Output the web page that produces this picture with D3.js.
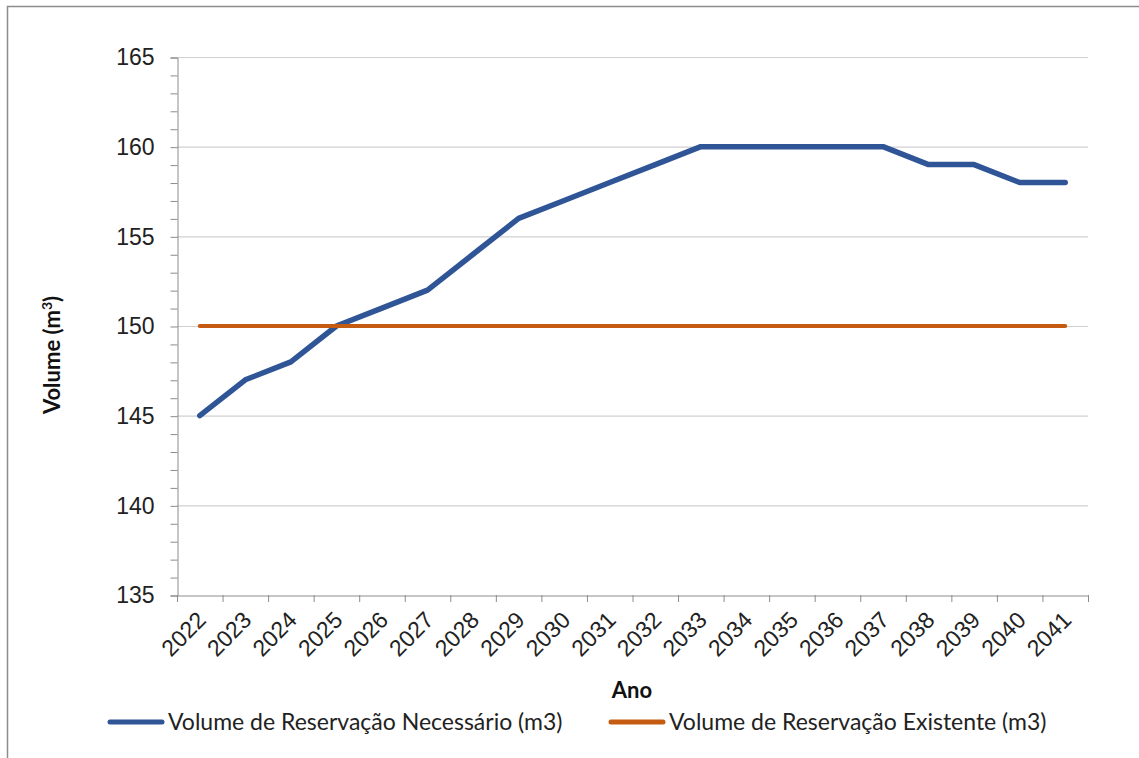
<!DOCTYPE html>
<html>
<head>
<meta charset="utf-8">
<script src="https://cdn.jsdelivr.net/npm/d3@7"></script>
<style>
  body { margin: 0; background: #fff; }
  svg { display: block; font-family: Lato, "Open Sans", sans-serif; }
</style>
</head>
<body>
<div id="chart"></div>
<script>
const anos = ['2022','2023','2024','2025','2026','2027','2028','2029','2030','2031',
              '2032','2033','2034','2035','2036','2037','2038','2039','2040','2041'];
const necessario = [145, 147, 148, 150, 151, 152, 154, 156, 157, 158,
                    159, 160, 160, 160, 160, 160, 159, 159, 158, 158];
const existente = [150, 150, 150, 150, 150, 150, 150, 150, 150, 150,
                   150, 150, 150, 150, 150, 150, 150, 150, 150, 150];
const yTicks = [135, 140, 145, 150, 155, 160, 165];
const serieNomes = ['Volume de Reservação Necessário (m3)', 'Volume de Reservação Existente (m3)'];
const cores = ['#2f5597', '#c55a11'];

const width = 1139, height = 758;
const margin = { left: 177, right: 1139 - 1088, top: 57, bottom: 758 - 595 };

const svg = d3.select('#chart').append('svg')
    .attr('width', width)
    .attr('height', height);

// moldura (apenas topo e esquerda visíveis)
svg.append('path')
    .attr('d', `M7.5,${height} V6.5 H${width}`)
    .attr('fill', 'none')
    .attr('stroke', '#8c8c8c')
    .attr('stroke-width', 1.5);

const x = d3.scaleBand()
    .domain(anos)
    .range([margin.left, width - margin.right]);

const y = d3.scaleLinear()
    .domain([135, 165])
    .range([height - margin.bottom, margin.top]);

// grade
svg.append('g')
    .selectAll('line')
    .data(yTicks.slice(1))
    .enter()
    .append('line')
        .attr('x1', margin.left)
        .attr('x2', width - margin.right)
        .attr('y1', d => y(d) + 0.5)
        .attr('y2', d => y(d) + 0.5)
        .attr('stroke', '#d0d0d0')
        .attr('stroke-width', 1.2);

// eixo y
const yAxis = svg.append('g')
    .attr('transform', `translate(${margin.left + 0.5},0.5)`)
    .call(d3.axisLeft(y).tickValues(d3.range(135, 166, 1)).tickSize(7).tickFormat(d => yTicks.includes(d) ? d : ''));
yAxis.select('.domain').attr('stroke', '#8c8c8c');
yAxis.selectAll('.tick line').attr('stroke', '#8c8c8c');
yAxis.selectAll('.tick text')
    .attr('x', -23)
    .style('font-size', '23px')
    .attr('fill', '#222');

// eixo x
const xAxis = svg.append('g')
    .attr('transform', `translate(0.5,${height - margin.bottom + 0.5})`)
    .call(d3.axisBottom(x).tickSize(0).tickSizeOuter(0));
xAxis.select('.domain').attr('stroke', '#8c8c8c');
xAxis.selectAll('.tick text')
    .style('font-size', '23px')
    .attr('fill', '#222')
    .attr('text-anchor', 'end')
    .attr('dy', 0)
    .attr('y', 0)
    .attr('transform', 'translate(7,26) rotate(-45)');

// marcas nos limites das categorias
svg.append('g')
    .selectAll('line')
    .data(anos.concat(['fim']))
    .enter()
    .append('line')
        .attr('x1', (d, i) => margin.left + i * x.step() + 0.5)
        .attr('x2', (d, i) => margin.left + i * x.step() + 0.5)
        .attr('y1', height - margin.bottom)
        .attr('y2', height - margin.bottom + 7)
        .attr('stroke', '#8c8c8c');

// linhas
const linha = d3.line()
    .x((d, i) => x(anos[i]) + x.bandwidth() / 2)
    .y(d => y(d));

[necessario, existente].forEach((serie, k) => {
    svg.append('path')
        .datum(serie)
        .attr('d', linha)
        .attr('fill', 'none')
        .attr('stroke', cores[k])
        .attr('stroke-width', k === 0 ? 5.5 : 4)
        .attr('stroke-linejoin', 'round')
        .attr('stroke-linecap', 'round');
});

// títulos dos eixos
svg.append('text')
    .attr('transform', 'translate(60,355) rotate(-90)')
    .attr('text-anchor', 'middle')
    .style('font-size', '22px')
    .style('font-weight', 'bold')
    .attr('fill', '#111')
    .html('Volume (m<tspan dy="-8" font-size="14px">3</tspan><tspan dy="8">)</tspan>');

svg.append('text')
    .attr('x', 632)
    .attr('y', 698)
    .attr('text-anchor', 'middle')
    .style('font-size', '22px')
    .style('font-weight', 'bold')
    .attr('fill', '#111')
    .text('Ano');

// legenda
const legX = [108, 609];
const leg = svg.append('g')
    .selectAll('g')
    .data(serieNomes)
    .enter()
    .append('g')
        .attr('transform', (d, i) => `translate(${legX[i]},722)`);
leg.append('line')
    .attr('x1', 2).attr('x2', 54)
    .attr('stroke', (d, i) => cores[i])
    .attr('stroke-width', 5)
    .attr('stroke-linecap', 'round');
leg.append('text')
    .attr('x', 60)
    .attr('y', 8)
    .style('font-size', '23px')
    .attr('fill', '#222')
    .text(d => d);
</script>
</body>
</html>
